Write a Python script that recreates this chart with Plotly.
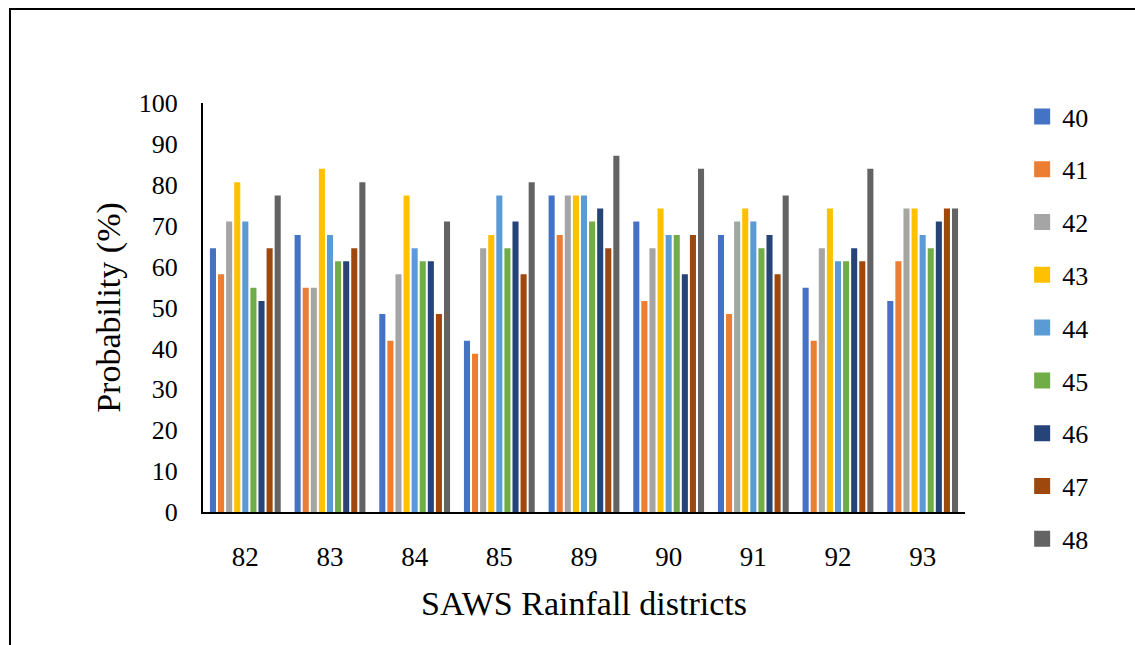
import plotly.graph_objects as go

districts = ["82", "83", "84", "85", "89", "90", "91", "92", "93"]
series_names = ["40", "41", "42", "43", "44", "45", "46", "47", "48"]
s40 = [64.5, 67.7, 48.4, 41.9, 77.4, 71.0, 67.7, 54.8, 51.6]
s41 = [58.1, 54.8, 41.9, 38.7, 67.7, 51.6, 48.4, 41.9, 61.3]
s42 = [71.0, 54.8, 58.1, 64.5, 77.4, 64.5, 71.0, 64.5, 74.2]
s43 = [80.6, 83.9, 77.4, 67.7, 77.4, 74.2, 74.2, 74.2, 74.2]
s44 = [71.0, 67.7, 64.5, 77.4, 77.4, 67.7, 71.0, 61.3, 67.7]
s45 = [54.8, 61.3, 61.3, 64.5, 71.0, 67.7, 64.5, 61.3, 64.5]
s46 = [51.6, 61.3, 61.3, 71.0, 74.2, 58.1, 67.7, 64.5, 71.0]
s47 = [64.5, 64.5, 48.4, 58.1, 64.5, 67.7, 58.1, 61.3, 74.2]
s48 = [77.4, 80.6, 71.0, 80.6, 87.1, 83.9, 77.4, 83.9, 74.2]
series_values = [s40, s41, s42, s43, s44, s45, s46, s47, s48]
colors = ["#4472C4", "#ED7D31", "#A5A5A5", "#FFC000", "#5B9BD5",
          "#70AD47", "#264478", "#9E480E", "#636363"]

fig = go.Figure()
for name, vals, col in zip(series_names, series_values, colors):
    fig.add_trace(go.Bar(name=name, x=districts, y=vals, marker_color=col,
                         marker_line_width=0, legendgroup=name,
                         showlegend=False))
# legend entries with larger square swatches
for name, col in zip(series_names, colors):
    fig.add_trace(go.Scatter(name=name, x=[None], y=[None], mode="markers",
                             marker=dict(symbol="square", size=16, color=col),
                             legendgroup=name, showlegend=True))

serif = "Palatino Linotype, Liberation Serif, DejaVu Serif, serif"

fig.update_layout(
    width=1135, height=645,
    margin=dict(l=203, r=170, t=103, b=133),
    paper_bgcolor="white", plot_bgcolor="white",
    barmode="group", bargap=0.14, bargroupgap=0.25,
    showlegend=True,
    legend=dict(x=1.075, y=1.0244, xanchor="left", yanchor="top",
                font=dict(family=serif, size=26, color="#000"),
                tracegroupgap=16, itemwidth=30, maxheight=620),
    xaxis=dict(showline=True, linecolor="black", linewidth=2,
               ticks="outside", ticklen=20, tickcolor="rgba(0,0,0,0)",
               tickfont=dict(family=serif, size=27, color="#000"),
               title=dict(text="SAWS Rainfall districts",
                          font=dict(family=serif, size=34, color="#000"),
                          standoff=20),
               showgrid=False),
    yaxis=dict(range=[0, 100], dtick=10, showline=True, linecolor="black",
               linewidth=2, ticks="outside", ticklen=18,
               tickcolor="rgba(0,0,0,0)", showgrid=False, zeroline=False,
               tickfont=dict(family=serif, size=26, color="#000"),
               title=dict(text="Probability (%)",
                          font=dict(family=serif, size=34, color="#000"),
                          standoff=8)),
    shapes=[dict(type="rect", xref="paper", yref="paper",
                 x0=-0.2533, x1=1.25, y0=-0.35, y1=1.2298,
                 line=dict(color="black", width=2), layer="below")],
)

fig.write_html("out.html")
